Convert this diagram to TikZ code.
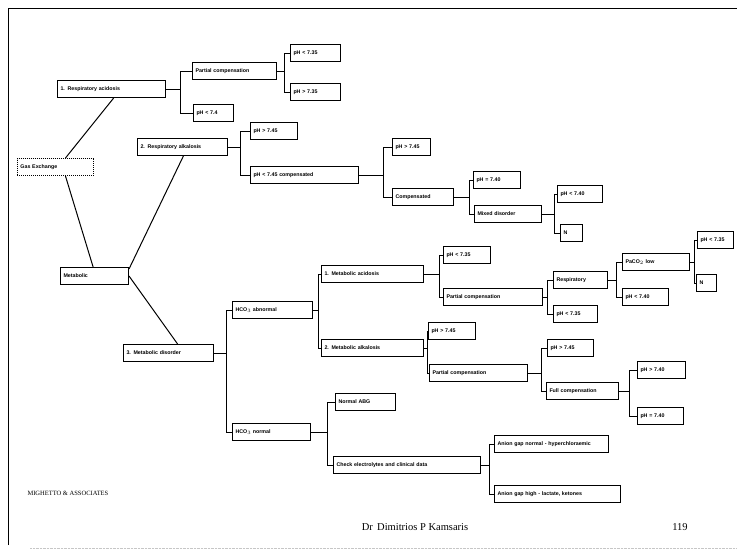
\documentclass[tikz,border=0pt]{standalone}
\usepackage{fontspec}
\setmainfont{Liberation Serif}
\setsansfont{Liberation Sans}
\usepackage{tikz}
\usetikzlibrary{positioning,calc}
\tikzset{
  tbox/.style  = {draw=black, line width=1pt, anchor=west, minimum height=17pt,
                  inner xsep=3pt, inner ysep=1pt, align=left,
                  font=\sffamily\bfseries\fontsize{5.3}{6}\selectfont},
  rbox/.style  = {tbox, densely dotted, line width=0.9pt},
  link/.style  = {line width=1pt},
  foot/.style  = {font=\fontsize{10.5}{12}\selectfont},
}

\begin{document}
\begin{tikzpicture}[x=1pt, y=-1pt]
  \useasboundingbox (0,0) rectangle (737,557);
  \fill[white] (0,0) rectangle (737,557);
  % slide frame
  \draw[line width=0.8pt] (8,545) -- (8,8) -- (737,8);
  \draw[gray!45, densely dotted] (30,548) -- (737,548);

  % root and main branches
  \node[rbox, text width=70pt] (gas) at (17,167) {Gas Exchange};
  \node[tbox, text width=102pt] (rac) at (57,89) {1. Respiratory acidosis};
  \node[tbox, text width=62pt] (met) at (60,276) {Metabolic};
  \node[tbox, text width=84pt] (ral) at (137,147) {2. Respiratory alkalosis};
  \node[tbox, text width=84pt] (mdis) at (123,353) {3. Metabolic disorder};

  % boxes of the tree: name/left/y/width/text
  \foreach \n/\x/\y/\w/\t in {
      rpc/192/71/84/{Partial compensation},
      rlo/193/113/40/{pH < 7.4},
      rpa/290/53/50/{pH < 7.35},
      rpb/290/92/50/{pH > 7.35},
      lhi/250/131/47/{pH > 7.45},
      lpc/250/175/108/{pH < 7.45 compensated},
      lpa/392/147/38/{pH > 7.45},
      lfc/392/197/61/{Compensated},
      lno/473/180/47/{pH = 7.40},
      lmx/474/214/67/{Mixed disorder},
      lmxa/557/194/45/{pH < 7.40},
      lmxb/560/233/22/{N},
      hab/232/310/80/{HCO$_3$ abnormal},
      hno/232/432/78/{HCO$_3$ normal},
      mac/321/274/102/{1. Metabolic acidosis},
      mal/321/348/102/{2. Metabolic alkalosis},
      acl/443/255/47/{pH < 7.35},
      acp/443/297/99/{Partial compensation},
      acr/553/280/54/{Respiratory},
      acs/553/314/44/{pH < 7.35},
      acrl/622/262/67/{PaCO$_2$ low},
      acrp/622/297/46/{pH < 7.40},
      acrla/697/240/36/{pH < 7.35},
      acrlb/696/283/20/{N},
      alh/428/331/47/{pH > 7.45},
      alp/429/373/98/{Partial compensation},
      ala/547/348/46/{pH > 7.45},
      alf/546/391/72/{Full compensation},
      alfa/637/370/48/{pH > 7.40},
      alfb/637/416/46/{pH = 7.40},
      nab/335/402/60/{Normal ABG},
      ncl/333/465/147/{Check electrolytes and clinical data},
      ncla/494/444/114/{Anion gap normal - hyperchloraemic},
      nclb/494/494/126/{Anion gap high - lactate{,} ketones}} {
    \pgfmathsetmacro\tw{\w-6}
    \node[tbox, text width=\tw pt] (\n) at (\x,\y) {\t};
  }

  % straight links from the root
  \draw[link] ($(gas.north west)!0.63!(gas.north east)$) -- ($(rac.south west)!0.52!(rac.south east)$);
  \draw[link] ($(gas.south west)!0.63!(gas.south east)$) -- ($(met.north west)!0.48!(met.north east)$);
  \draw[link] ($(met.north east)+(0,2)$) -- ($(ral.south west)!0.51!(ral.south east)$);
  \draw[link] (met.east) -- ($(mdis.north west)!0.6!(mdis.north east)$);

  % bracket links: parent/upper/lower/offset
  \foreach \p/\a/\b/\d in {
      rac/rpc/rlo/14, rpc/rpa/rpb/7,
      ral/lhi/lpc/12, lpc/lpa/lfc/24, lfc/lno/lmx/15, lmx/lmxa/lmxb/12,
      mdis/hab/hno/12, hab/mac/mal/5,
      mac/acl/acp/15, acp/acr/acs/4, acr/acrl/acrp/8, acrl/acrla/acrlb/4,
      mal/alh/alp/3, alp/ala/alf/13, alf/alfa/alfb/10,
      hno/nab/ncl/16, ncl/ncla/nclb/8} {
    \draw[link] (\p.east) -- ++(\d,0) coordinate (j) |- (\a.west);
    \draw[link] (j) |- (\b.west);
  }

  % footer
  \node[font=\fontsize{6.5}{8}\selectfont, anchor=west] (firm) at (24,493) {MIGHETTO \& ASSOCIATES};
  \node[foot] (author) at (415,527) {Dr\, Dimitrios P Kamsaris};
  \node[foot] (page) at (680,527) {119};
\end{tikzpicture}
\end{document}
